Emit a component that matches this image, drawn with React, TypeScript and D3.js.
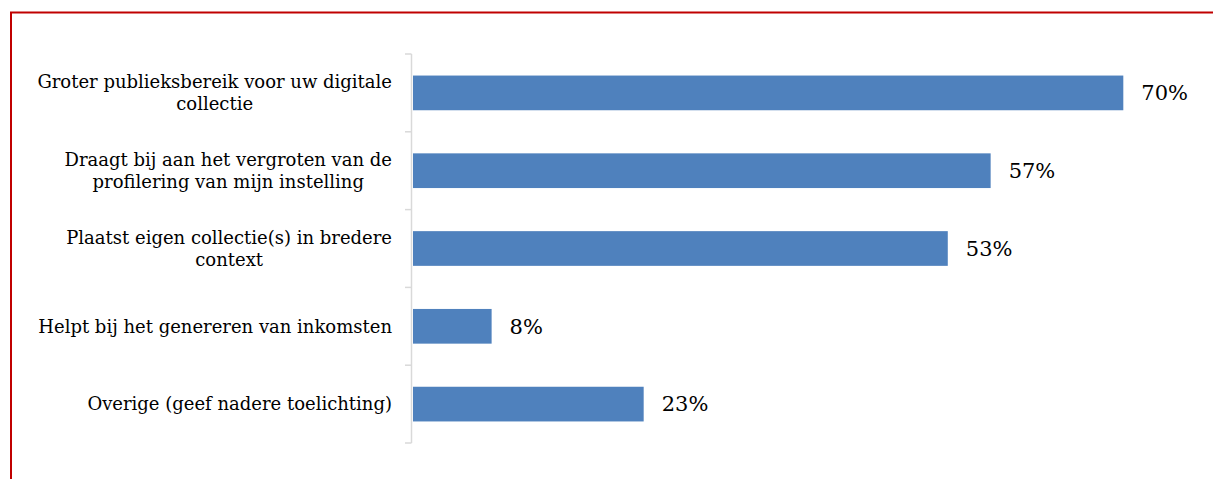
import React, { useEffect, useRef } from "react";
import * as d3 from "d3";

const categories: string[] = [
  "Groter publieksbereik voor uw digitale\ncollectie",
  "Draagt bij aan het vergroten van de\nprofilering van mijn instelling",
  "Plaatst eigen collectie(s) in bredere\ncontext",
  "Helpt bij het genereren van inkomsten",
  "Overige (geef nadere toelichting)",
];
const values: number[] = [69.8, 56.8, 52.6, 7.9, 22.8];

const W = 1213;
const H = 479;

export default function App() {
  const ref = useRef<SVGSVGElement | null>(null);

  useEffect(() => {
    const svg = d3.select(ref.current);
    svg.selectAll("*").remove();

    const font = "'DejaVu Serif', serif";

    // frame
    svg
      .append("path")
      .attr("d", `M11,${H} V12.5 H${W}`)
      .attr("fill", "none")
      .attr("stroke", "#C00000")
      .attr("stroke-width", 2);

    const axisX = 411.5;
    const y = d3
      .scaleBand<string>()
      .domain(categories)
      .range([54, 443])
      .paddingInner(0.554)
      .paddingOuter(0.277);
    const x = d3.scaleLinear().domain([0, 80]).range([411, 1227.4]);

    // bars
    svg
      .append("g")
      .selectAll("rect")
      .data(values)
      .join("rect")
      .attr("x", x(0) + 2)
      .attr("y", (_, i) => y(categories[i])!)
      .attr("width", (d) => x(d) - x(0) - 2)
      .attr("height", y.bandwidth())
      .attr("fill", "#4F81BD");

    // axis
    const g = svg.append("g");
    g.append("line")
      .attr("x1", axisX)
      .attr("x2", axisX)
      .attr("y1", 54)
      .attr("y2", 443)
      .attr("stroke", "#D9D9D9")
      .attr("stroke-width", 1.5);
    const step = y.step();
    const ticks = d3.range(categories.length + 1).map((i) => 54 + i * step);
    g.selectAll("line.tick")
      .data(ticks)
      .join("line")
      .attr("class", "tick")
      .attr("x1", 405)
      .attr("x2", axisX)
      .attr("y1", (d) => d)
      .attr("y2", (d) => d)
      .attr("stroke", "#D9D9D9")
      .attr("stroke-width", 1.5);

    // category labels
    const lineH = 22;
    const rightEdge = 392;
    categories.forEach((c) => {
      const lines = c.split("\n");
      const cy = y(c)! + y.bandwidth() / 2;
      const tg = svg.append("g");
      const texts = lines.map((ln, j) =>
        tg
          .append("text")
          .attr("y", cy + (j - (lines.length - 1) / 2) * lineH)
          .attr("dy", "0.35em")
          .attr("text-anchor", "middle")
          .attr("font-family", font)
          .attr("font-size", 18)
          .attr("fill", "#000")
          .text(ln)
      );
      const widths = texts.map((t) => (t.node() as SVGTextElement).getComputedTextLength());
      const bw = Math.max(...widths);
      const cx = rightEdge - bw / 2;
      texts.forEach((t) => t.attr("x", cx));
    });

    // value labels
    const fmt = d3.format(".0f");
    svg
      .append("g")
      .selectAll("text")
      .data(values)
      .join("text")
      .attr("x", (d) => x(d) + 18)
      .attr("y", (_, i) => y(categories[i])! + y.bandwidth() / 2)
      .attr("dy", "0.35em")
      .attr("font-family", font)
      .attr("font-size", 21)
      .attr("fill", "#000")
      .text((d) => fmt(d) + "%");
  }, []);

  return (
    <svg
      ref={ref}
      width={W}
      height={H}
      style={{ position: "absolute", left: 0, top: 0, background: "#fff" }}
    />
  );
}
